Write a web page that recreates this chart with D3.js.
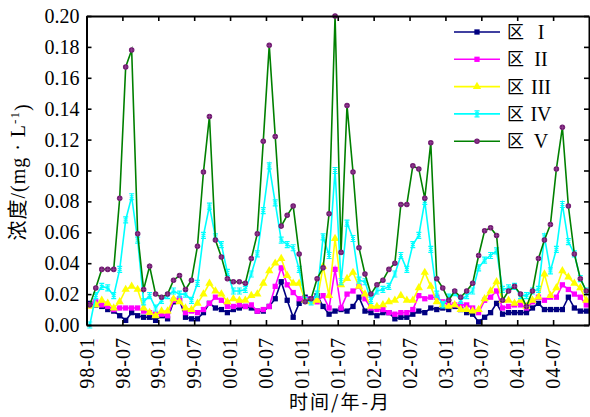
<!DOCTYPE html>
<html lang="zh">
<head>
<meta charset="utf-8">
<title>浓度</title>
<script src="https://d3js.org/d3.v7.min.js"></script>
<style>
  body { margin: 0; background: #fff; }
  svg text { font-family: "Liberation Serif", "Times New Roman", serif; fill: #000; }
  svg .cn { font-family: "Noto Sans CJK SC", "Noto Sans", sans-serif; }
  .axis path, .axis line { stroke: #000; }
  .axis path { stroke-width: 2; }
  .axis line { stroke-width: 1.6; }
</style>
</head>
<body>
<script>
// monthly values, 98-01 .. 04-12
var zone1 = [0.014,0.013,0.012,0.010,0.009,0.006,0.003,0.008,0.006,0.005,
             0.005,0.003,0.006,0.004,0.015,0.016,0.005,0.004,0.004,0.008,
             0.014,0.011,0.010,0.008,0.010,0.011,0.012,0.011,0.009,0.009,
             0.012,0.017,0.028,0.016,0.005,0.014,0.018,0.017,0.019,0.012,
             0.007,0.009,0.010,0.009,0.012,0.018,0.009,0.008,0.006,0.008,
             0.008,0.004,0.005,0.005,0.007,0.009,0.008,0.011,0.010,0.011,
             0.010,0.012,0.010,0.008,0.007,0.002,0.005,0.008,0.014,0.007,
             0.008,0.008,0.008,0.008,0.011,0.014,0.010,0.010,0.010,0.010,
             0.018,0.011,0.009,0.009];
var zone2 = [0.013,0.015,0.013,0.012,0.010,0.011,0.011,0.011,0.011,0.009,
             0.008,0.007,0.007,0.006,0.016,0.017,0.008,0.009,0.008,0.010,
             0.014,0.018,0.016,0.012,0.012,0.013,0.012,0.013,0.009,0.010,
             0.012,0.025,0.037,0.026,0.021,0.017,0.017,0.017,0.015,0.019,
             0.011,0.036,0.011,0.020,0.022,0.025,0.017,0.011,0.010,0.010,
             0.008,0.007,0.008,0.008,0.010,0.019,0.017,0.018,0.018,0.015,
             0.013,0.013,0.013,0.013,0.011,0.008,0.016,0.018,0.022,0.011,
             0.012,0.013,0.013,0.011,0.015,0.018,0.016,0.018,0.018,0.026,
             0.023,0.020,0.018,0.013];
var zone3 = [0.012,0.013,0.016,0.014,0.011,0.015,0.023,0.025,0.023,0.011,
             0.008,0.006,0.009,0.009,0.017,0.015,0.011,0.010,0.014,0.020,
             0.027,0.022,0.020,0.015,0.017,0.016,0.016,0.019,0.020,0.027,
             0.035,0.040,0.043,0.032,0.027,0.027,0.016,0.015,0.016,0.038,
             0.019,0.056,0.026,0.030,0.034,0.025,0.020,0.012,0.012,0.013,
             0.015,0.016,0.019,0.016,0.016,0.024,0.034,0.025,0.015,0.013,
             0.012,0.013,0.010,0.010,0.009,0.010,0.017,0.022,0.028,0.016,
             0.016,0.014,0.016,0.012,0.016,0.018,0.033,0.019,0.024,0.035,
             0.031,0.027,0.024,0.016];
var zone4 = [0.000,0.019,0.025,0.024,0.019,0.036,0.068,0.083,0.055,0.015,
             0.019,0.011,0.016,0.019,0.022,0.020,0.020,0.016,0.027,0.058,
             0.077,0.057,0.052,0.034,0.022,0.022,0.023,0.033,0.046,0.074,
             0.103,0.079,0.055,0.052,0.050,0.036,0.016,0.015,0.020,0.057,
             0.045,0.100,0.028,0.066,0.056,0.029,0.028,0.016,0.022,0.023,
             0.025,0.033,0.045,0.036,0.052,0.058,0.080,0.049,0.020,0.013,
             0.018,0.021,0.016,0.019,0.022,0.037,0.042,0.045,0.048,0.023,
             0.024,0.025,0.019,0.019,0.022,0.023,0.057,0.035,0.049,0.078,
             0.054,0.046,0.030,0.022];
var zone5 = [0.013,0.024,0.036,0.036,0.036,0.082,0.167,0.178,0.059,0.023,
             0.038,0.020,0.018,0.020,0.029,0.032,0.023,0.029,0.051,0.099,
             0.135,0.055,0.044,0.030,0.028,0.028,0.027,0.043,0.059,0.119,
             0.181,0.122,0.064,0.071,0.077,0.046,0.015,0.017,0.030,0.037,
             0.072,0.200,0.047,0.142,0.099,0.050,0.033,0.020,0.026,0.029,
             0.036,0.040,0.078,0.078,0.103,0.101,0.082,0.118,0.030,0.024,
             0.016,0.022,0.018,0.022,0.027,0.045,0.061,0.063,0.058,0.016,
             0.022,0.025,0.020,0.012,0.022,0.043,0.055,0.065,0.101,0.128,
             0.077,0.046,0.030,0.022];

var seriesNames = ["I", "II", "III", "IV", "V"];
var tickMonths = [0, 6, 12, 18, 24, 30, 36, 42, 48, 54, 60, 66, 72, 78];
var tickLabels = ["98-01","98-07","99-01","99-07","00-01","00-07","01-01",
                  "01-07","02-01","02-07","03-01","03-07","04-01","04-07"];
var yTicks = [0, 0.02, 0.04, 0.06, 0.08, 0.10, 0.12, 0.14, 0.16, 0.18, 0.20];

var width = 590, height = 417;

var series = [
    {name: seriesNames[0], values: zone1, color: "#000080", mark: "square",   mcolor: "#000080"},
    {name: seriesNames[1], values: zone2, color: "#ff00ff", mark: "square",   mcolor: "#ff00ff"},
    {name: seriesNames[2], values: zone3, color: "#ffff00", mark: "triangle", mcolor: "#ffff00"},
    {name: seriesNames[3], values: zone4, color: "#00ffff", mark: "ibeam",    mcolor: "#00ffff"},
    {name: seriesNames[4], values: zone5, color: "#008000", mark: "circle",   mcolor: "#6e166e"}
];

var x = d3.scaleLinear().domain([0, 84]).range([86.5, 589]);
var y = d3.scaleLinear().domain([0, 0.2]).range([325, 16]);

var svg = d3.select("body").append("svg")
    .attr("width", width)
    .attr("height", height);

// marker shapes
function marker(sel, s) {
    if (s.mark == "square") {
        sel.append("path").attr("d", d3.symbol(d3.symbolSquare, 28)())
            .attr("fill", s.mcolor);
    } else if (s.mark == "triangle") {
        sel.append("path").attr("d", d3.symbol(d3.symbolTriangle, 30)())
            .attr("fill", s.mcolor);
    } else if (s.mark == "ibeam") {
        sel.append("path").attr("d", "M-2.5,-3H2.5M-2.5,3H2.5M0,-3V3M-2,-1H2M-2,1H2")
            .attr("stroke", s.mcolor).attr("stroke-width", 1.2).attr("fill", "none");
    } else {
        sel.append("path").attr("d", d3.symbol(d3.symbolCircle, 24)())
            .attr("fill", s.mcolor);
        sel.append("path").attr("d", "M-2.4,0H2.4M0,-2.4V2.4")
            .attr("stroke", "#a050a0").attr("stroke-width", 0.6);
    }
}

//Lines

var line = d3.line()
    .x(function(d, i) { return x(i + 0.55); })
    .y(function(d) { return y(d); });

series.forEach(function(s) {
    var g = svg.append("g");
    g.append("path")
        .datum(s.values)
        .attr("fill", "none")
        .attr("stroke", s.color)
        .attr("stroke-width", 1.6)
        .attr("stroke-linejoin", "miter")
        .attr("stroke-miterlimit", 8)
        .attr("d", line);
    g.selectAll("g.pt")
        .data(s.values)
        .enter().append("g")
        .attr("class", "pt")
        .attr("transform", function(d, i) { return "translate(" + x(i + 0.55) + "," + y(d) + ")"; })
        .each(function() { marker(d3.select(this), s); });
});

//Axes

svg.append("g").attr("class", "axis")
    .attr("transform", "translate(0," + y(0) + ")")
    .call(d3.axisBottom(x).tickValues(tickMonths).tickSize(-5).tickSizeOuter(0)
        .tickFormat(function(d, i) { return tickLabels[i]; }))
    .selectAll("text")
    .attr("transform", "rotate(-90)")
    .attr("text-anchor", "end")
    .attr("x", -12)
    .attr("y", 0)
    .attr("dy", "0.33em")
    .style("font-size", "20px")
    .style("letter-spacing", "1px");

svg.append("g").attr("class", "axis")
    .attr("transform", "translate(0," + y(0.2) + ")")
    .call(d3.axisTop(x).tickValues(tickMonths).tickSize(-5).tickSizeOuter(0).tickFormat(""));

svg.append("g").attr("class", "axis")
    .attr("transform", "translate(" + x(0) + ",0)")
    .call(d3.axisLeft(y).tickValues(yTicks).tickSize(-5).tickSizeOuter(0).tickPadding(7)
        .tickFormat(d3.format(".2f")))
    .selectAll("text")
    .style("font-size", "20px");

svg.append("g").attr("class", "axis")
    .attr("transform", "translate(" + x(84) + ",0)")
    .call(d3.axisRight(y).tickValues(yTicks).tickSize(-5).tickSizeOuter(0).tickFormat(""));

svg.selectAll(".axis text").attr("font-family", null);

//Titles

svg.append("text")
    .attr("class", "cn")
    .attr("x", 340)
    .attr("y", 409)
    .attr("text-anchor", "middle")
    .style("font-size", "19px")
    .style("letter-spacing", "2px")
    .text("时间/年-月");

var yl = svg.append("text")
    .attr("transform", "translate(25,172) rotate(-90)")
    .attr("text-anchor", "middle")
    .style("font-size", "20px")
    .style("letter-spacing", "1px");
yl.append("tspan").attr("class", "cn").text("浓度");
yl.append("tspan").text("/(mg · L");
yl.append("tspan").attr("dy", "-0.5em").style("font-size", "13px").text("-1");
yl.append("tspan").attr("dy", "0.5em").text(")");

//Legend

var legend = svg.selectAll("g.legend")
    .data(series)
    .enter().append("g")
    .attr("class", "legend")
    .attr("transform", function(d, i) { return "translate(0," + (32 + i * 27.3) + ")"; });

legend.append("line")
    .attr("x1", 454).attr("x2", 500)
    .attr("stroke", function(d) { return d.color; })
    .attr("stroke-width", 1.6);

legend.append("g")
    .attr("transform", "translate(477,0)")
    .each(function(d) { marker(d3.select(this), d); });

legend.append("text")
    .attr("class", "cn")
    .attr("x", 507)
    .attr("dy", "0.36em")
    .style("font-size", "17px")
    .text("区");

legend.append("text")
    .attr("x", 541)
    .attr("dy", "0.35em")
    .attr("text-anchor", "middle")
    .style("font-size", "20px")
    .text(function(d) { return d.name; });
</script>
</body>
</html>
